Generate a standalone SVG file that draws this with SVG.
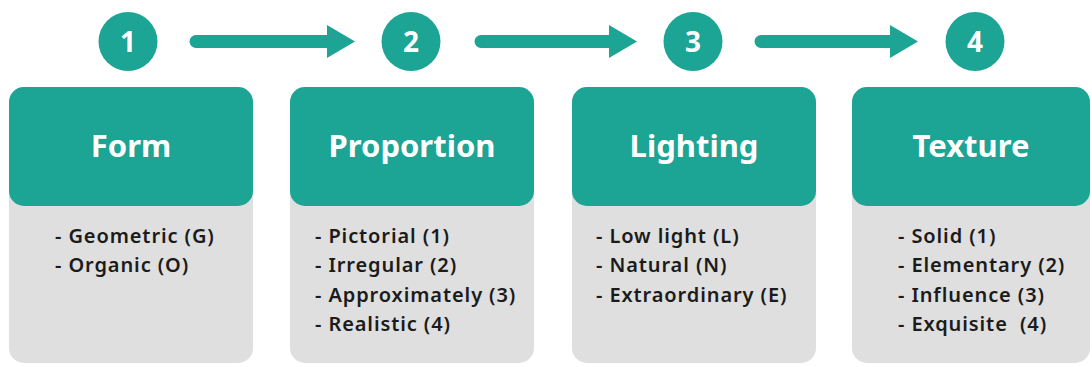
<svg xmlns="http://www.w3.org/2000/svg" width="1092" height="367" viewBox="0 0 1092 367">
<style>
.body{fill:#dfdfdf}
.head{fill:#1ca494}
.circ{fill:#1ca494}
.num{font-family:"Noto Sans",sans-serif;font-weight:700;font-size:28px;fill:#fff;text-anchor:middle}
.title{font-family:"Noto Sans",sans-serif;font-weight:700;font-size:31px;fill:#fff;text-anchor:middle}
.item{font-family:"Noto Sans",sans-serif;font-weight:600;font-size:20px;letter-spacing:0.9px;fill:#1b1b1b}
.shaft{stroke:#1ca494;stroke-width:13;stroke-linecap:round;fill:none}
.tip{fill:#1ca494}
</style>
<rect width="1092" height="367" fill="#fff"/>
<g id="connectors">
<line class="shaft" x1="196" y1="41.5" x2="330" y2="41.5"/>
<polygon class="tip" points="327,25 355,41.5 327,58"/>
<line class="shaft" x1="481" y1="41.5" x2="612" y2="41.5"/>
<polygon class="tip" points="609,25 637,41.5 609,58"/>
<line class="shaft" x1="761" y1="41.5" x2="893" y2="41.5"/>
<polygon class="tip" points="890,25 918,41.5 890,58"/>
</g>
<g id="node1">
<circle class="circ" cx="128" cy="41.5" r="29.5"/>
<text class="num" x="128" y="52">1</text>
<rect class="body" x="9" y="87" width="244" height="276" rx="15"/>
<rect class="head" x="9" y="87" width="244" height="119" rx="15"/>
<text class="title" x="131" y="157">Form</text>
<text class="item" x="55" y="243">- Geometric (G)</text>
<text class="item" x="55" y="272">- Organic (O)</text>
</g>
<g id="node2">
<circle class="circ" cx="411" cy="41.5" r="29.5"/>
<text class="num" x="411" y="52">2</text>
<rect class="body" x="290" y="87" width="244" height="276" rx="15"/>
<rect class="head" x="290" y="87" width="244" height="119" rx="15"/>
<text class="title" x="412" y="157">Proportion</text>
<text class="item" x="315" y="243">- Pictorial (1)</text>
<text class="item" x="315" y="272">- Irregular (2)</text>
<text class="item" x="315" y="302">- Approximately (3)</text>
<text class="item" x="315" y="331">- Realistic (4)</text>
</g>
<g id="node3">
<circle class="circ" cx="693" cy="41.5" r="29.5"/>
<text class="num" x="693" y="52">3</text>
<rect class="body" x="572" y="87" width="244" height="276" rx="15"/>
<rect class="head" x="572" y="87" width="244" height="119" rx="15"/>
<text class="title" x="694" y="157">Lighting</text>
<text class="item" x="596" y="243">- Low light (L)</text>
<text class="item" x="596" y="272">- Natural (N)</text>
<text class="item" x="596" y="302">- Extraordinary (E)</text>
</g>
<g id="node4">
<circle class="circ" cx="975" cy="41.5" r="29.5"/>
<text class="num" x="975" y="52">4</text>
<rect class="body" x="852" y="87" width="238" height="276" rx="15"/>
<rect class="head" x="852" y="87" width="238" height="119" rx="15"/>
<text class="title" x="971" y="157">Texture</text>
<text class="item" x="898" y="243">- Solid (1)</text>
<text class="item" x="898" y="272">- Elementary (2)</text>
<text class="item" x="898" y="302">- Influence (3)</text>
<text class="item" x="898" y="331">- Exquisite&#160; (4)</text>
</g>
</svg>
